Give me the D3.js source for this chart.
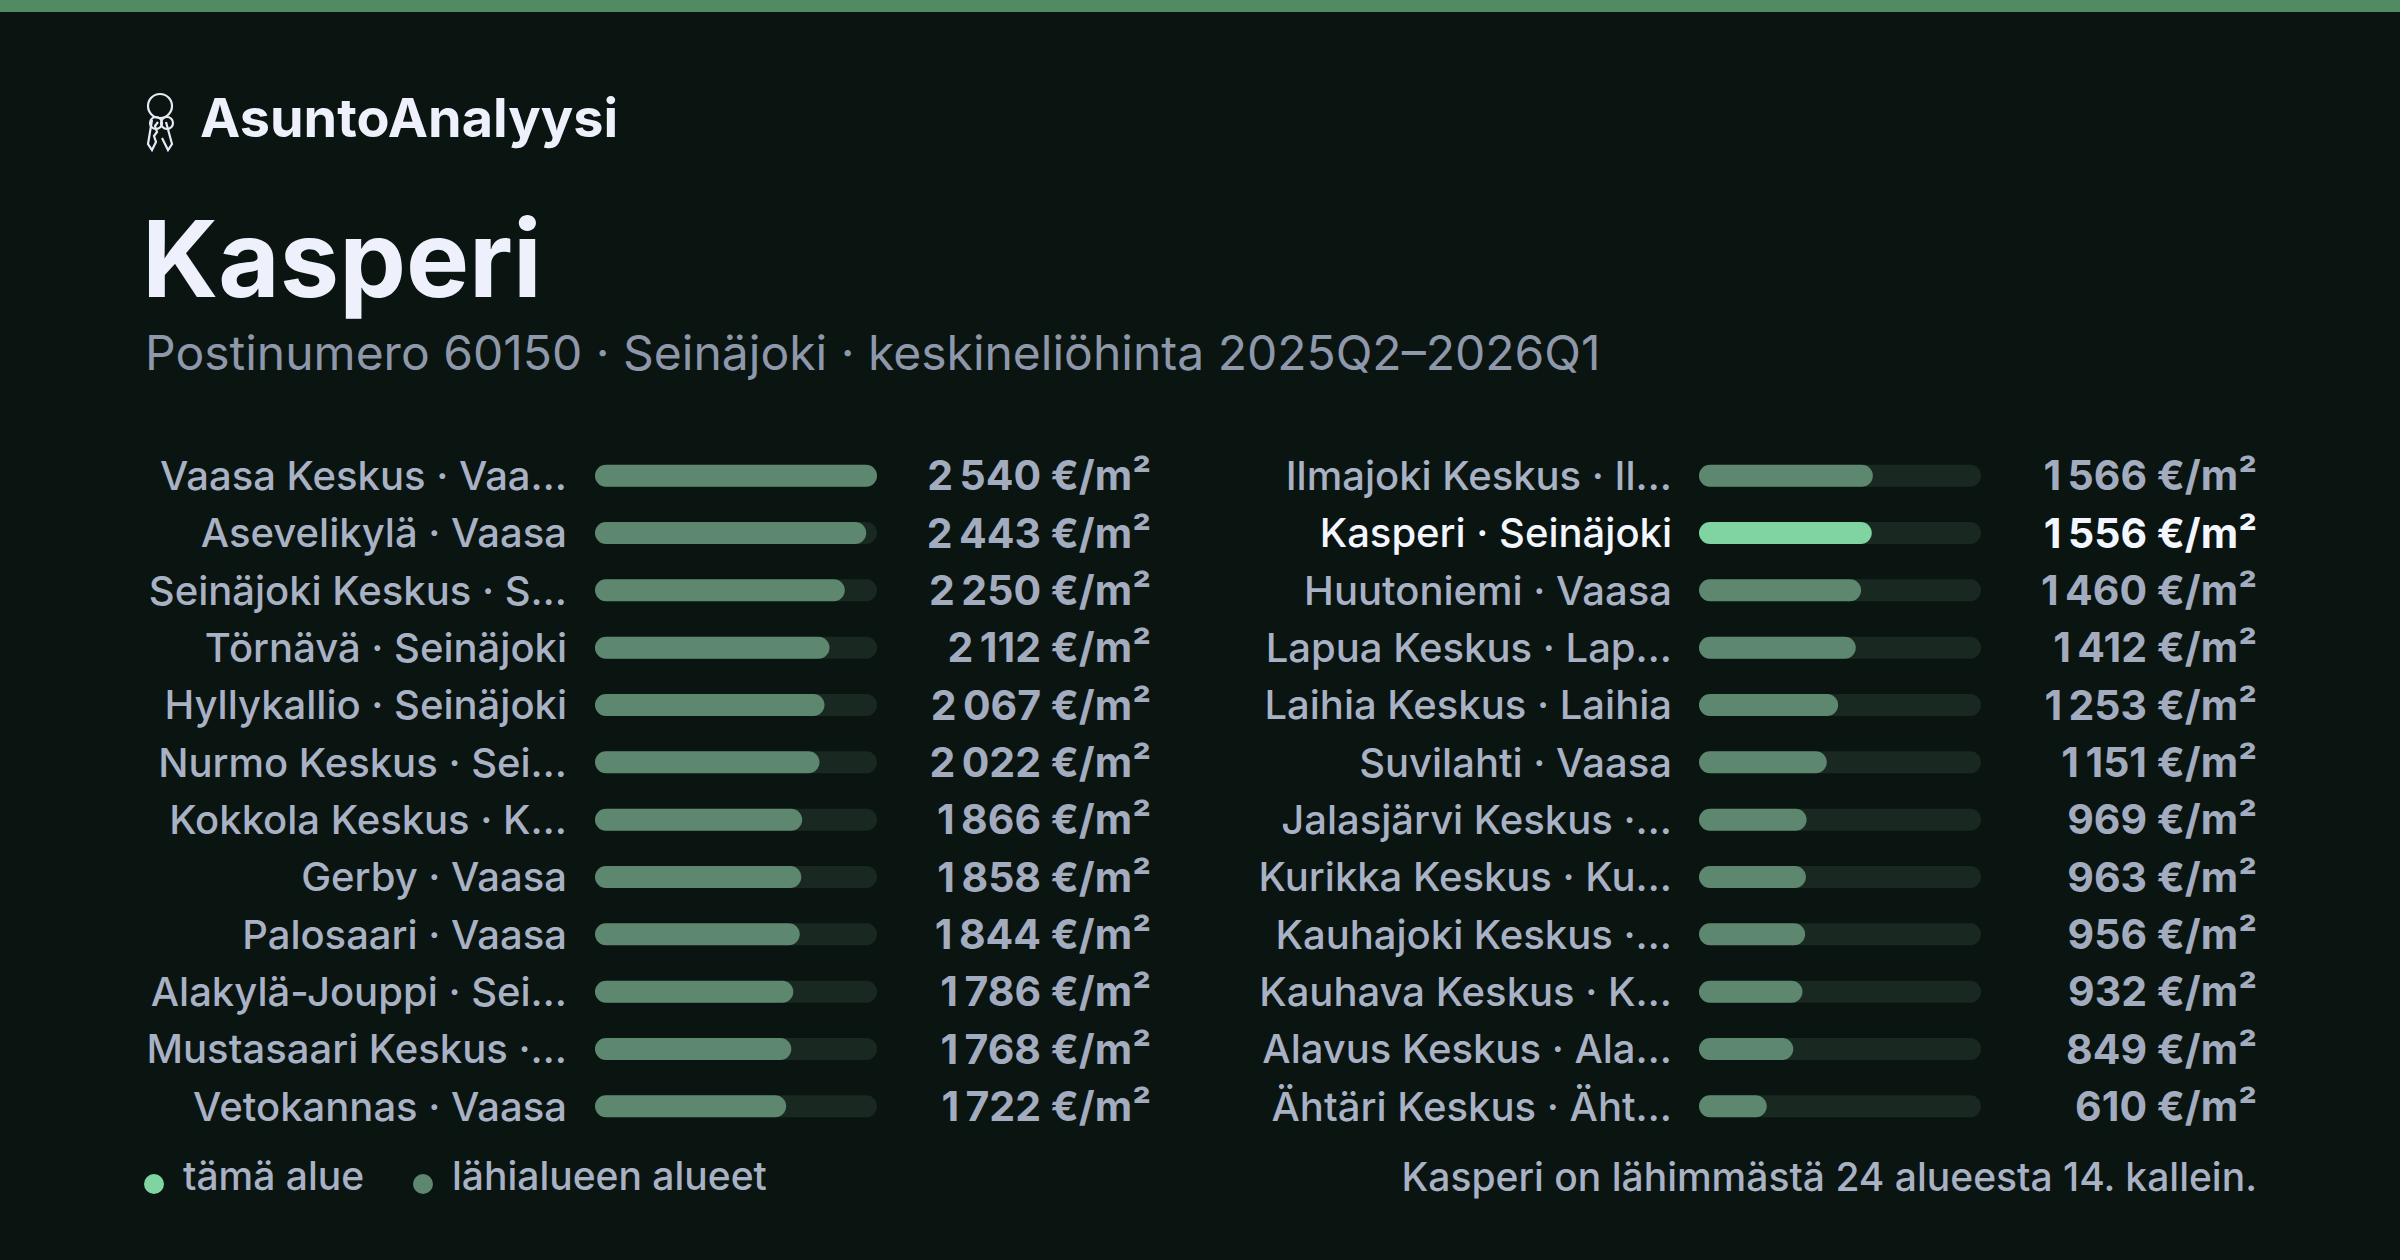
<!DOCTYPE html>
<html>
<head>
<meta charset="utf-8">
<script src="https://cdn.jsdelivr.net/npm/d3@7"></script>
<style>
  body { margin: 0; background: #0a1512; }
  svg { display: block; font-family: Inter, "Noto Sans", sans-serif; }
</style>
</head>
<body>
<svg id="chart" width="2400" height="1260"></svg>
<script>
// data
const leftNames = ["Vaasa Keskus · Vaa…", "Asevelikylä · Vaasa", "Seinäjoki Keskus · S…", "Törnävä · Seinäjoki",
  "Hyllykallio · Seinäjoki", "Nurmo Keskus · Sei…", "Kokkola Keskus · K…", "Gerby · Vaasa",
  "Palosaari · Vaasa", "Alakylä-Jouppi · Sei…", "Mustasaari Keskus ·…", "Vetokannas · Vaasa"];
const leftValues = [2540, 2443, 2250, 2112, 2067, 2022, 1866, 1858, 1844, 1786, 1768, 1722];
const rightNames = ["Ilmajoki Keskus · Il…", "Kasperi · Seinäjoki", "Huutoniemi · Vaasa", "Lapua Keskus · Lap…",
  "Laihia Keskus · Laihia", "Suvilahti · Vaasa", "Jalasjärvi Keskus ·…", "Kurikka Keskus · Ku…",
  "Kauhajoki Keskus ·…", "Kauhava Keskus · K…", "Alavus Keskus · Ala…", "Ähtäri Keskus · Äht…"];
const rightValues = [1566, 1556, 1460, 1412, 1253, 1151, 969, 963, 956, 932, 849, 610];
const highlight = "Kasperi · Seinäjoki";

const svg = d3.select("#chart");
svg.append("rect").attr("width", 2400).attr("height", 1260).attr("fill", "#0a1512");
svg.append("rect").attr("width", 2400).attr("height", 12).attr("fill", "#528a62");

// key icon
const icon = svg.append("g").attr("transform", "translate(144,92)")
  .attr("fill", "none").attr("stroke", "#e8ebf7").attr("stroke-width", 2.2);
icon.append("circle").attr("cx", 16).attr("cy", 14).attr("r", 12);
icon.append("path").attr("d", "M8,28 L4,52 L8,58 L12,50 L10,44 L13,40 L11,34 L14,30");
icon.append("path").attr("d", "M22,30 L28,52 L24,58 L18,46");
icon.append("circle").attr("cx", 12).attr("cy", 31).attr("r", 6);
icon.append("circle").attr("cx", 23).attr("cy", 31).attr("r", 6);

svg.append("text").attr("x", 200).attr("y", 137)
  .attr("fill", "#eef0fb").attr("font-size", 54).attr("font-weight", 700)
  .text("AsuntoAnalyysi");
svg.append("text").attr("x", 142).attr("y", 297)
  .attr("fill", "#eef0fb").attr("font-size", 106).attr("font-weight", 700)
  .text("Kasperi");
svg.append("text").attr("x", 145).attr("y", 370)
  .attr("fill", "#8f98ab").attr("font-size", 48)
  .text("Postinumero 60150 · Seinäjoki · keskineliöhinta 2025Q2–2026Q1");

const x = d3.scaleLinear().domain([0, 2540]).range([0, 282]);
const y = d3.scaleBand().domain(d3.range(12)).range([447, 1135]).paddingInner(0);
const fmt = v => d3.format(",")(v).replace(",", "\u202f") + " €/m²";

function column(names, values, labelX, barX, valueX) {
  const rows = svg.append("g").selectAll("g")
    .data(names.map((n, i) => ({ name: n, value: values[i], i })))
    .join("g")
    .attr("transform", d => `translate(0, ${y(d.i) + y.bandwidth() / 2})`);
  rows.append("text")
    .attr("x", labelX).attr("dy", "0.36em").attr("text-anchor", "end")
    .attr("font-size", 40).attr("font-weight", 500)
    .attr("fill", d => d.name === highlight ? "#f4f6ff" : "#a9b1c4")
    .text(d => d.name);
  rows.append("rect")
    .attr("x", barX).attr("y", -11).attr("height", 22).attr("rx", 11)
    .attr("width", x(2540)).attr("fill", "#1a2822");
  rows.append("rect")
    .attr("x", barX).attr("y", -11).attr("height", 22).attr("rx", 11)
    .attr("width", d => x(d.value))
    .attr("fill", d => d.name === highlight ? "#7fd4a2" : "#5d876e");
  rows.append("text")
    .attr("x", valueX).attr("dy", "0.36em").attr("text-anchor", "end")
    .attr("font-size", 41).attr("font-weight", 700)
    .attr("fill", d => d.name === highlight ? "#f4f6ff" : "#a3abbf")
    .text(d => fmt(d.value));
}
column(leftNames, leftValues, 567, 595, 1151);
column(rightNames, rightValues, 1672, 1699, 2257);

// legend
const legend = [{ t: "tämä alue", c: "#7fd4a2", x: 154 }, { t: "lähialueen alueet", c: "#5d876e", x: 423 }];
const lg = svg.append("g").selectAll("g").data(legend).join("g")
  .attr("transform", d => `translate(${d.x}, 1184)`);
lg.append("circle").attr("r", 10).attr("cy", 0).attr("fill", d => d.c);
lg.append("text").attr("x", 29).attr("y", 6).attr("font-size", 39).attr("font-weight", 500)
  .attr("fill", "#a9b1c4").text(d => d.t);

svg.append("text").attr("x", 2257).attr("y", 1191).attr("text-anchor", "end")
  .attr("font-size", 39).attr("font-weight", 500).attr("fill", "#a9b1c4")
  .text("Kasperi on lähimmästä 24 alueesta 14. kallein.");
</script>
</body>
</html>
